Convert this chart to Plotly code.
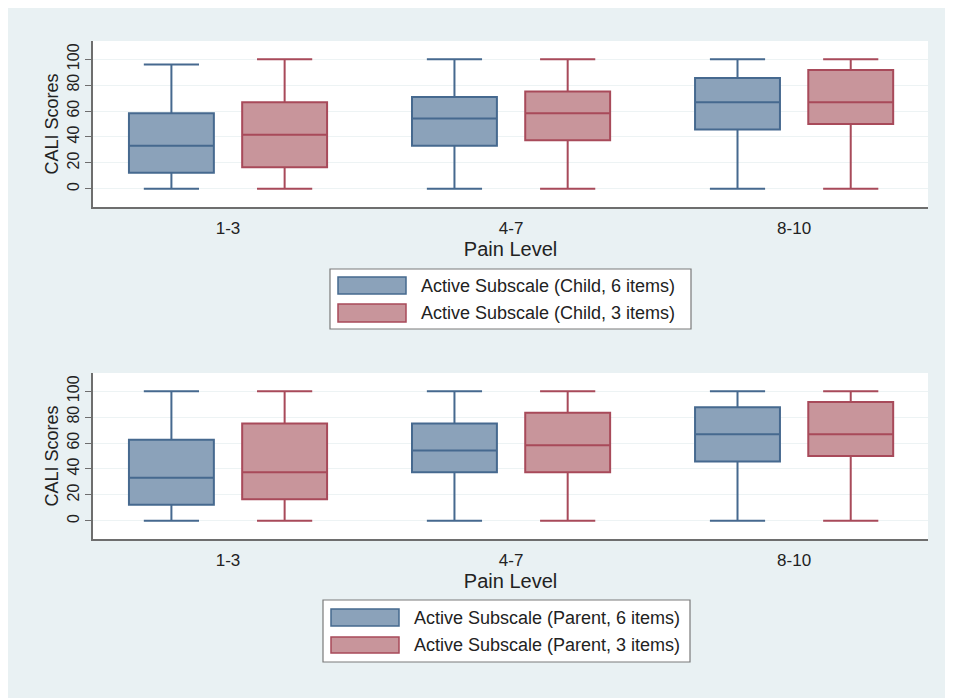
import plotly.graph_objects as go

# ---------------- data ----------------
pain_levels = ["1-3", "4-7", "8-10"]

child6_low = [0, 0, 0]
child6_q1 = [12.5, 33.3, 45.8]
child6_med = [33.3, 54.2, 66.7]
child6_q3 = [58.3, 70.8, 85.4]
child6_high = [95.8, 100, 100]

child3_low = [0, 0, 0]
child3_q1 = [16.7, 37.5, 50.0]
child3_med = [41.7, 58.3, 66.7]
child3_q3 = [66.7, 75.0, 91.7]
child3_high = [100, 100, 100]

parent6_low = [0, 0, 0]
parent6_q1 = [12.5, 37.5, 45.8]
parent6_med = [33.3, 54.2, 66.7]
parent6_q3 = [62.5, 75.0, 87.5]
parent6_high = [100, 100, 100]

parent3_low = [0, 0, 0]
parent3_q1 = [16.7, 37.5, 50.0]
parent3_med = [37.5, 58.3, 66.7]
parent3_q3 = [75.0, 83.3, 91.7]
parent3_high = [100, 100, 100]

y_ticks = [0, 20, 40, 60, 80, 100]
legend_top = ["Active Subscale (Child, 6 items)", "Active Subscale (Child, 3 items)"]
legend_bottom = ["Active Subscale (Parent, 6 items)", "Active Subscale (Parent, 3 items)"]

# ---------------- style ----------------
OFF = 8  # page body margin
W, H = 953, 690
ML, MR, MT, MB = 85, 33, 33, 159
PW, PH = W - ML - MR, H - MT - MB
FONT = "Liberation Sans, Arial, sans-serif"
BG = "#E9F1F3"
BLUE_FILL = "#8BA2BA"
BLUE_LINE = "#46698F"
RED_FILL = "#C8959B"
RED_LINE = "#A84A5A"
AXIS_COL = "#6E6E6E"


def px_x(p):
    # p: pixel x in the page screenshot
    return (p - OFF - ML) / PW


def px_y(p):
    # p: pixel y in the page screenshot
    return (H - MB - (p - OFF)) / PH


fig = go.Figure()


def add_box(name, low, q1, med, q3, high, fill, line, xa, ya, agroup, ogroup):
    fig.add_trace(go.Box(
        name=name, x=pain_levels, lowerfence=low, q1=q1, median=med, q3=q3,
        upperfence=high, fillcolor=fill, line=dict(color=line, width=2),
        whiskerwidth=0.65, boxpoints=False, showlegend=False,
        xaxis=xa, yaxis=ya, hoverinfo="skip",
        alignmentgroup=agroup, offsetgroup=ogroup,
    ))


add_box(legend_top[0], child6_low, child6_q1, child6_med, child6_q3, child6_high,
        BLUE_FILL, BLUE_LINE, "x", "y", "top", "six")
add_box(legend_top[1], child3_low, child3_q1, child3_med, child3_q3, child3_high,
        RED_FILL, RED_LINE, "x", "y", "top", "three")
add_box(legend_bottom[0], parent6_low, parent6_q1, parent6_med, parent6_q3, parent6_high,
        BLUE_FILL, BLUE_LINE, "x2", "y2", "bottom", "six")
add_box(legend_bottom[1], parent3_low, parent3_q1, parent3_med, parent3_q3, parent3_high,
        RED_FILL, RED_LINE, "x2", "y2", "bottom", "three")

xaxis_common = dict(
    type="category", range=[-0.477, 2.473], showline=True, linecolor=AXIS_COL,
    linewidth=1.5, showgrid=False, zeroline=False, ticks="",
    tickfont=dict(size=17, color="#222", family=FONT), ticklabelstandoff=5,
    title=dict(text="Pain Level", font=dict(size=20, color="#222", family=FONT), standoff=4),
)
yaxis_common = dict(
    range=[-14, 114], tickvals=y_ticks, tickangle=-90, showline=True,
    linecolor=AXIS_COL, linewidth=1.5, ticks="outside", ticklen=6,
    tickcolor=AXIS_COL, tickwidth=1.2, showgrid=True, gridcolor="#EDF3F4",
    gridwidth=1, zeroline=False, tickfont=dict(size=16, color="#222", family=FONT),
    ticklabelstandoff=0,
    title=dict(text="CALI Scores", font=dict(size=18, color="#222", family=FONT), standoff=2),
)

fig.update_layout(
    width=W, height=H, margin=dict(l=ML, r=MR, t=MT, b=MB, autoexpand=False),
    paper_bgcolor=BG, plot_bgcolor="white",
    boxmode="group", boxgap=0.2, boxgroupgap=0.25,
    font=dict(family=FONT, color="#222"),
    xaxis=dict(domain=[0, 1], anchor="y", **xaxis_common),
    yaxis=dict(domain=[px_y(207), 1], anchor="x", **yaxis_common),
    xaxis2=dict(domain=[0, 1], anchor="y2", **xaxis_common),
    yaxis2=dict(domain=[0, px_y(373)], anchor="x2", **yaxis_common),
)

shapes = []
annotations = []


def add_legend(box, sw_x, sw_rows, text_x, labels):
    bx0, by0, bx1, by1 = box
    shapes.append(dict(type="rect", xref="paper", yref="paper",
                       x0=px_x(bx0), x1=px_x(bx1), y0=px_y(by1), y1=px_y(by0),
                       fillcolor="white", line=dict(color="#7A7A7A", width=1.2)))
    for (r0, r1), lab, fill, line in zip(sw_rows, labels, [BLUE_FILL, RED_FILL], [BLUE_LINE, RED_LINE]):
        shapes.append(dict(type="rect", xref="paper", yref="paper",
                           x0=px_x(sw_x[0]), x1=px_x(sw_x[1]), y0=px_y(r1), y1=px_y(r0),
                           fillcolor=fill, line=dict(color=line, width=1.5)))
        annotations.append(dict(xref="paper", yref="paper", x=px_x(text_x), y=px_y((r0 + r1) / 2),
                                text=lab, showarrow=False, xanchor="left", yanchor="middle",
                                font=dict(size=18, color="#222", family=FONT)))


add_legend((330, 269, 691, 329), (338, 406), [(277, 294), (304, 322)], 419, legend_top)
add_legend((323, 600, 690, 662), (331, 399), [(609, 626), (637, 653)], 412, legend_bottom)

fig.update_layout(shapes=shapes, annotations=annotations)

fig.write_html("out.html")
